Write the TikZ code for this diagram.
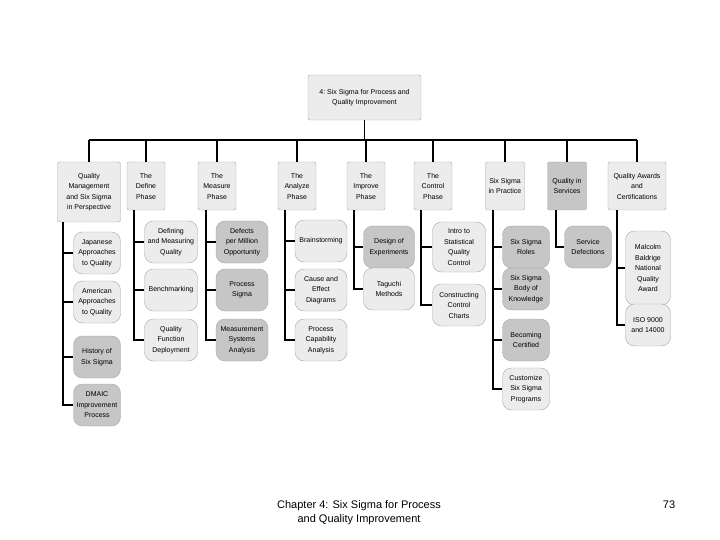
\documentclass[tikz,border=0pt]{standalone}
\usepackage{fontspec}
\setmainfont{Liberation Sans}
\begin{document}
\begin{tikzpicture}[x=1pt,y=-1pt,
  box/.style={draw=gray!70, fill=#1, rounded corners=2pt, align=center, font=\fontsize{7}{10.5}\selectfont, inner sep=2pt, drop shadow/.style={}},
  box/.default=gray!15,
  kid/.style={draw=gray!70, fill=#1, rounded corners=9pt, align=center, font=\fontsize{7}{10.5}\selectfont, inner sep=2pt, minimum width=47pt, minimum height=42pt},
  kid/.default=gray!15,
  conn/.style={line width=1.2pt, black}]
\useasboundingbox (0,0) rectangle (720,540);
\node[box, minimum width=113pt, minimum height=45pt] (top) at (364.5,97.5) {4:\ Six Sigma for Process and\\Quality Improvement};
\node[box, minimum width=63pt, minimum height=60pt] (g1) at (89,192) {Quality\\Management\\and Six Sigma\\in Perspective};
\node[box, minimum width=38pt, minimum height=48pt] (g2) at (146,186) {The\\Define\\Phase};
\node[box, minimum width=38pt, minimum height=48pt] (g3) at (217,186) {The\\Measure\\Phase};
\node[box, minimum width=38pt, minimum height=48pt] (g4) at (297,186) {The\\Analyze\\Phase};
\node[box, minimum width=38pt, minimum height=48pt] (g5) at (366,186) {The\\Improve\\Phase};
\node[box, minimum width=38pt, minimum height=48pt] (g6) at (433,186) {The\\Control\\Phase};
\node[box, minimum width=39pt, minimum height=48pt] (g7) at (505,186) {Six Sigma\\in Practice};
\node[box=gray!45, minimum width=39pt, minimum height=48pt] (g8) at (567,186) {Quality in\\Services};
\node[box, minimum width=58pt, minimum height=48pt] (g9) at (637,186) {Quality Awards\\and\\Certifications};
\coordinate (bus) at (0,140);
\draw[conn] (top.south) -- (top.south |- bus);
\draw[conn] (g1.north |- bus) -- (g9.north |- bus);
\foreach \g in {g1,g2,g3,g4,g5,g6,g7,g8,g9} \draw[conn] (\g.north |- bus) -- (\g.north);
% children
\node[kid] (c11) at (97,253) {Japanese\\Approaches\\to Quality};
\node[kid] (c12) at (97,302) {American\\Approaches\\to Quality};
\node[kid=gray!45] (c13) at (97,357) {History of\\Six Sigma};
\node[kid=gray!45] (c14) at (97,405) {DMAIC\\Improvement\\Process};
\node[kid, minimum width=53pt] (c21) at (171,242) {Defining\\and Measuring\\Quality};
\node[kid, minimum width=53pt] (c22) at (171,290) {Benchmarking};
\node[kid, minimum width=53pt] (c23) at (171,340) {Quality\\Function\\Deployment};
\node[kid=gray!45, minimum width=52pt] (c31) at (242,242) {Defects\\per Million\\Opportunity};
\node[kid=gray!45, minimum width=52pt] (c32) at (242,290) {Process\\Sigma};
\node[kid=gray!45, minimum width=52pt] (c33) at (242,340) {Measurement\\Systems\\Analysis};
\node[kid, minimum width=52pt] (c41) at (321,241) {Brainstorming};
\node[kid, minimum width=52pt] (c42) at (321,290) {Cause and\\Effect\\Diagrams};
\node[kid, minimum width=52pt] (c43) at (321,340) {Process\\Capability\\Analysis};
\node[kid=gray!45, minimum width=51pt] (c51) at (389,247) {Design of\\Experiments};
\node[kid, minimum width=51pt] (c52) at (389,289) {Taguchi\\Methods};
\node[kid, minimum width=53pt, minimum height=50pt] (c61) at (459,247) {Intro to\\Statistical\\Quality\\Control};
\node[kid, minimum width=53pt] (c62) at (459,305) {Constructing\\Control\\Charts};
\node[kid=gray!45] (c71) at (526,247) {Six Sigma\\Roles};
\node[kid=gray!45] (c72) at (526,289) {Six Sigma\\Body of\\Knowledge};
\node[kid=gray!45] (c73) at (526,340) {Becoming\\Certified};
\node[kid] (c74) at (526,389) {Customize\\Six Sigma\\Programs};
\node[kid=gray!45] (c81) at (588,247) {Service\\Defections};
\node[kid, minimum width=45pt, minimum height=74pt] (c91) at (648,268) {Malcolm\\Baldrige\\National\\Quality\\Award};
\node[kid, minimum width=45pt] (c92) at (648,325) {ISO 9000\\and 14000};
\coordinate (x1) at (63,0); \coordinate (x2) at (134,0); \coordinate (x3) at (206,0);
\coordinate (x4) at (285,0); \coordinate (x5) at (354,0); \coordinate (x6) at (421,0);
\coordinate (x7) at (493,0); \coordinate (x8) at (556,0); \coordinate (x9) at (617,0);
\foreach \g/\c in {1/c11,1/c12,1/c13,1/c14,2/c21,2/c22,2/c23,3/c31,3/c32,3/c33,4/c41,4/c42,4/c43,5/c51,5/c52,6/c61,6/c62,7/c71,7/c72,7/c73,7/c74,8/c81,9/c91,9/c92}
  \draw[conn] (g\g.south -| x\g) |- (\c.west);
\node[font=\fontsize{11}{14}\selectfont, align=center] (foot) at (359,513) {Chapter 4: Six Sigma for Process\\and Quality Improvement};
\node[font=\fontsize{11}{14}\selectfont] (pg) at (669,505) {73};
\end{tikzpicture}
\end{document}
